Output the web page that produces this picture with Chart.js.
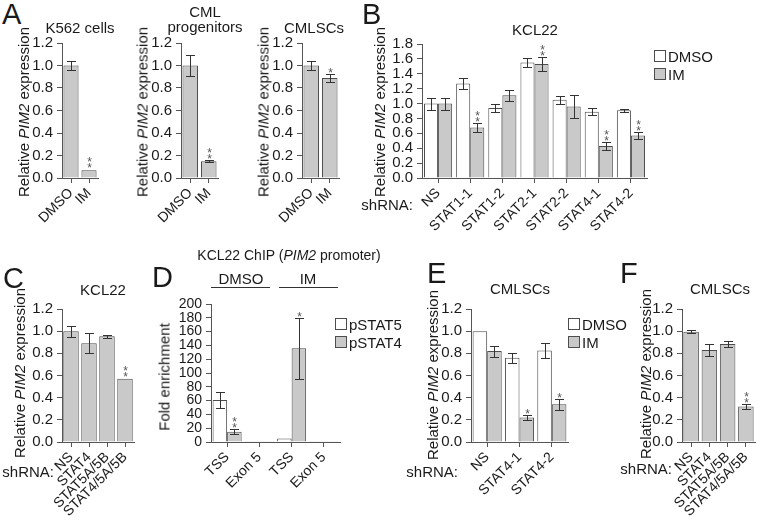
<!DOCTYPE html>
<html>
<head>
<meta charset="utf-8">
<script src="https://cdn.jsdelivr.net/npm/chart.js@4.4.1/dist/chart.umd.min.js"></script>
<style>
html, body { margin: 0; padding: 0; background: #fff; }
#fig { position: relative; width: 762px; height: 521px; overflow: hidden;
       font-family: "Liberation Sans", Arial, sans-serif; color: #1a1a1a; }
#fig canvas { position: absolute; }
.t { position: absolute; white-space: nowrap; line-height: 1; }
.box { position: absolute; width: 10px; height: 10px; border: 1px solid #4d4d4d; }
.rule { position: absolute; height: 1px; background: #333; }
</style>
</head>
<body>
<div id="fig"></div>
<script>
// ---- data ----
// A: PIM2 after imatinib
const treatCats = ["DMSO", "IM"];
const k562Vals = [1.0, 0.07];
const k562Err = [0.04, 0];
const k562Stars = ["", "**"];
const progVals = [1.0, 0.15];
const progErr = [0.09, 0.012];
const progStars = ["", "**"];
const lscVals = [1.0, 0.89];
const lscErr = [0.04, 0.035];
const lscStars = ["", "*"];
const ticks12 = [0, 0.2, 0.4, 0.6, 0.8, 1.0, 1.2];

// B: KCL22 shRNA, DMSO vs IM
const kclCats = ["NS", "STAT1-1", "STAT1-2", "STAT2-1", "STAT2-2", "STAT4-1", "STAT4-2"];
const kclDmso = [1.0, 1.27, 0.94, 1.55, 1.05, 0.89, 0.91];
const kclDmsoErr = [0.08, 0.08, 0.05, 0.06, 0.05, 0.05, 0.02];
const kclIm = [1.0, 0.68, 1.11, 1.53, 0.96, 0.43, 0.57];
const kclImErr = [0.08, 0.06, 0.07, 0.09, 0.15, 0.06, 0.05];
const kclImStars = ["", "**", "", "**", "", "**", "**"];
const ticks18 = [0, 0.2, 0.4, 0.6, 0.8, 1.0, 1.2, 1.4, 1.6, 1.8];

// C: KCL22 STAT knockdowns
const comboCats = ["NS", "STAT4", "STAT5A/5B", "STAT4/5A/5B"];
const kclComboVals = [1.0, 0.89, 0.955, 0.57];
const kclComboErr = [0.05, 0.09, 0.014, 0];
const kclComboStars = ["", "", "", "**"];

// D: ChIP fold enrichment
const chipCats = ["TSS", "Exon 5", "TSS", "Exon 5"];
const pstat5Vals = [61, 1, 5, 1];
const pstat5Err = [12, 0, 0, 0];
const pstat4Vals = [15, 1, 136, 1];
const pstat4Err = [4, 0, 44, 0];
const pstat4Stars = ["**", "", "*", ""];
const ticks200 = [0, 20, 40, 60, 80, 100, 120, 140, 160, 180, 200];

// E: CMLSCs STAT4 shRNA
const lscShCats = ["NS", "STAT4-1", "STAT4-2"];
const lscShDmso = [1.0, 0.76, 0.825];
const lscShDmsoErr = [0, 0.045, 0.07];
const lscShIm = [0.82, 0.22, 0.34];
const lscShImErr = [0.05, 0.025, 0.05];
const lscShImStars = ["", "*", "*"];

// F: CMLSCs STAT knockdowns
const lscComboVals = [0.995, 0.83, 0.885, 0.32];
const lscComboErr = [0.015, 0.05, 0.03, 0.025];
const lscComboStars = ["", "", "", "**"];

// ---- style ----
const FONT = '"Liberation Sans", Arial, sans-serif';
const axisCol = "#555";
const textCol = "#1a1a1a";
const grayFill = "#c9c9c9";
const whiteFill = "#ffffff";
const edgeCol = "#4d4d4d";

Chart.defaults.font.family = FONT;
Chart.defaults.color = textCol;

const fig = document.getElementById("fig");

// error bars + significance stars on top of bars
const errorBars = {
    id: "errorBars",
    afterDatasetsDraw(chart) {
        const ctx = chart.ctx;
        const y = chart.scales.y;
        chart.data.datasets.forEach((ds, i) => {
            const meta = chart.getDatasetMeta(i);
            meta.data.forEach((bar, j) => {
                const v = ds.data[j];
                const e = ds.errors ? ds.errors[j] : 0;
                const x = Math.round(bar.x) + 0.5;
                let top = y.getPixelForValue(v);
                if (e) {
                    const hi = Math.round(y.getPixelForValue(v + e)) + 0.5;
                    const lo = Math.round(y.getPixelForValue(v - e)) + 0.5;
                    ctx.save();
                    ctx.strokeStyle = "#333";
                    ctx.lineWidth = 1;
                    ctx.beginPath();
                    ctx.moveTo(x, hi); ctx.lineTo(x, lo);
                    ctx.moveTo(x - 4.5, hi); ctx.lineTo(x + 4.5, hi);
                    ctx.moveTo(x - 4.5, lo); ctx.lineTo(x + 4.5, lo);
                    ctx.stroke();
                    ctx.restore();
                    top = hi;
                }
                const s = ds.stars ? ds.stars[j] : "";
                ctx.save();
                ctx.fillStyle = "#555";
                ctx.font = "12px " + FONT;
                ctx.textAlign = "center";
                ctx.textBaseline = "alphabetic";
                for (let k = 0; k < s.length; k++) {
                    ctx.fillText("*", x, top - 5 - k * 6 + 7);
                }
                ctx.restore();
            });
        });
    },
};

function makeChart(area, labels, datasets, yTicks, fmt, barPct, catPct, xh, tickSize) {
    const yw = 40, pt = 12, pr = 14;
    const w = area.r - area.l + yw + pr;
    const h = area.b - area.t + pt + xh;
    const cv = document.createElement("canvas");
    cv.width = w;
    cv.height = h;
    cv.style.left = (area.l - yw) + "px";
    cv.style.top = (area.t - pt) + "px";
    cv.style.width = w + "px";
    cv.style.height = h + "px";
    fig.appendChild(cv);
    return new Chart(cv, {
        type: "bar",
        data: {
            labels: labels,
            datasets: datasets.map((d) => Object.assign({
                borderColor: edgeCol,
                borderWidth: 1,
                barPercentage: barPct,
                categoryPercentage: catPct,
            }, d)),
        },
        options: {
            responsive: false,
            animation: false,
            devicePixelRatio: 1,
            layout: { padding: { left: 0, top: pt, right: pr, bottom: 0 } },
            plugins: { legend: { display: false }, tooltip: { enabled: false } },
            scales: {
                x: {
                    grid: { offset: false, drawOnChartArea: false, tickLength: 5, color: axisCol },
                    border: { color: axisCol },
                    ticks: { autoSkip: false, minRotation: 45, maxRotation: 45, padding: 2,
                             font: { size: 14 }, color: textCol },
                    afterFit: (s) => { s.height = xh; },
                },
                y: {
                    min: yTicks[0],
                    max: yTicks[yTicks.length - 1],
                    grid: { drawOnChartArea: false, tickLength: 5, color: axisCol },
                    border: { color: axisCol },
                    ticks: { autoSkip: false, padding: 4, callback: fmt,
                             font: { size: tickSize || 15, lineHeight: 1 }, color: textCol },
                    afterBuildTicks: (s) => { s.ticks = yTicks.map((v) => ({ value: v })); },
                    afterFit: (s) => { s.width = yw; },
                },
            },
        },
        plugins: [errorBars],
    });
}

// ---- html text helpers ----
function text(html, x, base, size, align, extra) {
    const d = document.createElement("div");
    d.className = "t";
    d.innerHTML = html;
    d.style.fontSize = size + "px";
    d.style.left = x + "px";
    d.style.top = (base - 0.846 * size) + "px";
    if (align === "center") d.style.transform = "translateX(-50%)";
    if (align === "right") d.style.transform = "translateX(-100%)";
    if (extra) Object.assign(d.style, extra);
    fig.appendChild(d);
}
function vtext(html, cx, cy, size) {
    const d = document.createElement("div");
    d.className = "t";
    d.innerHTML = html;
    d.style.fontSize = size + "px";
    d.style.left = cx + "px";
    d.style.top = cy + "px";
    d.style.transform = "translate(-50%, -50%) rotate(-90deg)";
    fig.appendChild(d);
}
function legend(x, top, datasets) {
    datasets.forEach((ds, i) => {
        const b = document.createElement("div");
        b.className = "box";
        b.style.left = x + "px";
        b.style.top = (top + i * 18) + "px";
        b.style.background = ds.backgroundColor;
        fig.appendChild(b);
        text(ds.label, x + 14, top + i * 18 + 12, 15, "left");
    });
}
function rule(x1, x2, y) {
    const d = document.createElement("div");
    d.className = "rule";
    d.style.left = x1 + "px";
    d.style.width = (x2 - x1) + "px";
    d.style.top = y + "px";
    fig.appendChild(d);
}

const f1 = (v) => v.toFixed(1);
const f0 = (v) => String(v);
const pimTitle = "Relative <i>PIM2</i> expression";

// ---- panel A ----
makeChart({ l: 62, r: 98, t: 43, b: 178 }, treatCats,
    [{ data: k562Vals, errors: k562Err, stars: k562Stars, backgroundColor: grayFill }],
    ticks12, f1, 0.84, 1, 60);
makeChart({ l: 181, r: 218, t: 43, b: 178 }, treatCats,
    [{ data: progVals, errors: progErr, stars: progStars, backgroundColor: grayFill }],
    ticks12, f1, 0.84, 1, 60);
makeChart({ l: 302, r: 339, t: 43, b: 178 }, treatCats,
    [{ data: lscVals, errors: lscErr, stars: lscStars, backgroundColor: grayFill }],
    ticks12, f1, 0.84, 1, 60);
text("A", 2, 25, 29, "left");
text("K562 cells", 80, 33, 15, "center");
text("CML", 205, 17, 15, "center");
text("progenitors", 205, 32, 15, "center");
text("CMLSCs", 314, 33, 15, "center");
vtext(pimTitle, 23, 112, 15);
vtext(pimTitle, 142, 112, 15);
vtext(pimTitle, 263, 112, 15);

// ---- panel B ----
const bSets = [
    { label: "DMSO", data: kclDmso, errors: kclDmsoErr, backgroundColor: whiteFill },
    { label: "IM", data: kclIm, errors: kclImErr, stars: kclImStars, backgroundColor: grayFill },
];
makeChart({ l: 422, r: 647, t: 44, b: 178 }, kclCats, bSets, ticks18, f1, 1, 0.875, 60);
text("B", 362, 25, 29, "left");
text("KCL22", 535, 35, 15, "center");
vtext(pimTitle, 379, 112, 15);
text("shRNA:", 413, 210, 15, "right");
legend(654, 50, bSets);

// ---- panel C ----
makeChart({ l: 62, r: 134, t: 309, b: 442 }, comboCats,
    [{ data: kclComboVals, errors: kclComboErr, stars: kclComboStars, backgroundColor: grayFill }],
    ticks12, f1, 0.86, 1, 78);
text("C", 3, 289, 29, "left");
text("KCL22", 103, 295, 15, "center");
vtext(pimTitle, 19, 373, 15);
text("shRNA:", 54, 477, 15, "right");

// ---- panel D ----
const dSets = [
    { label: "pSTAT5", data: pstat5Vals, errors: pstat5Err, backgroundColor: whiteFill },
    { label: "pSTAT4", data: pstat4Vals, errors: pstat4Err, stars: pstat4Stars, backgroundColor: grayFill },
];
makeChart({ l: 211, r: 340, t: 304, b: 442 }, chipCats, dSets, ticks200, f0, 1, 0.9, 78, 14);
text("D", 152, 288, 29, "left");
text("KCL22 ChIP (<i>PIM2</i> promoter)", 289, 260, 14, "center");
text("DMSO", 241, 284, 15, "center");
text("IM", 308, 284, 15, "center");
rule(211, 270, 287);
rule(279, 338, 287);
vtext("Fold enrichment", 164, 377, 15);
legend(335, 318, dSets);

// ---- panel E ----
const eSets = [
    { label: "DMSO", data: lscShDmso, errors: lscShDmsoErr, backgroundColor: whiteFill },
    { label: "IM", data: lscShIm, errors: lscShImErr, stars: lscShImStars, backgroundColor: grayFill },
];
makeChart({ l: 471, r: 568, t: 309, b: 442 }, lscShCats, eSets, ticks12, f1, 1, 0.9, 78);
text("E", 427, 284, 29, "left");
text("CMLSCs", 520, 294, 15, "center");
vtext(pimTitle, 432, 375, 15);
text("shRNA:", 458, 477, 15, "right");
legend(568, 318, eSets);

// ---- panel F ----
makeChart({ l: 682, r: 755, t: 309, b: 442 }, comboCats,
    [{ data: lscComboVals, errors: lscComboErr, stars: lscComboStars, backgroundColor: grayFill }],
    ticks12, f1, 0.85, 1, 78);
text("F", 620, 284, 29, "left");
text("CMLSCs", 720, 294, 15, "center");
vtext(pimTitle, 645, 374, 15);
text("shRNA:", 672, 474, 15, "right");
</script>
</body>
</html>
